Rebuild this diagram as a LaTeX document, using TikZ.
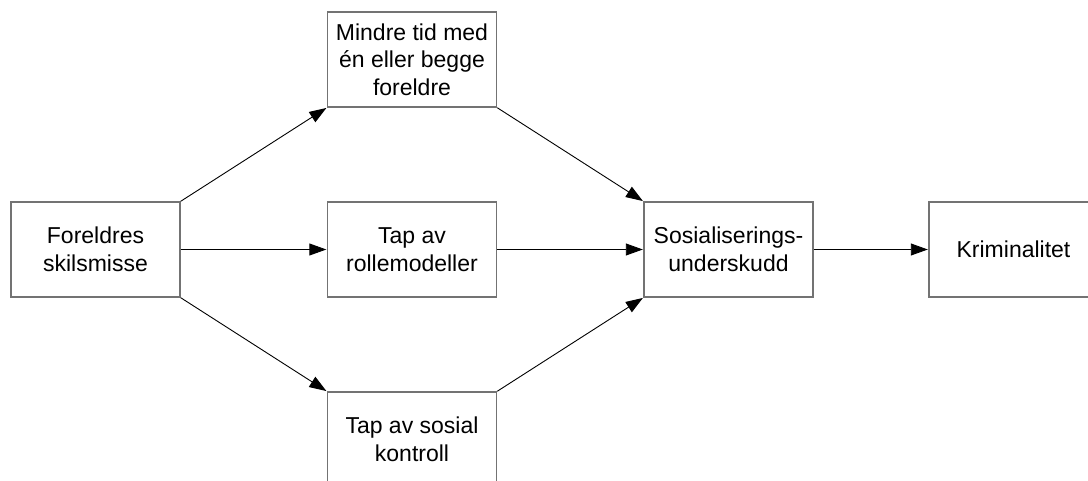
\documentclass[tikz,border=0pt]{standalone}
\usepackage{fontspec}
\setmainfont{Liberation Sans}
\usetikzlibrary{arrows.meta}
\begin{document}
\begin{tikzpicture}[x=1pt,y=-1pt,
  box/.style={draw=black!55,line width=1.4pt,minimum width=169pt,minimum height=95pt,inner sep=0pt,align=center,font=\fontsize{23}{27.5}\selectfont},
  conn/.style={draw=black,line width=0.9pt,-{Triangle[length=17pt,width=12pt]},shorten >=0.5pt}]
\useasboundingbox (0,0) rectangle (1088,481);
\clip (0,0) rectangle (1088,481);
\node[box] (a) at (95.5,249.5) {Foreldres\\skilsmisse};
\node[box] (b) at (412,59.5) {Mindre tid med\\én eller begge\\foreldre};
\node[box] (c) at (412,249.5) {Tap av\\rollemodeller};
\node[box] (d) at (412,439.5) {Tap av sosial\\kontroll};
\node[box] (e) at (728.5,249.5) {Sosialiserings-\\underskudd};
\node[box] (f) at (1013.5,249.5) {Kriminalitet};
\draw[conn] (a.north east) -- (b.south west);
\draw[conn] (a.east) -- (c.west);
\draw[conn] (a.south east) -- (d.north west);
\draw[conn] (b.south east) -- (e.north west);
\draw[conn] (c.east) -- (e.west);
\draw[conn] (d.north east) -- (e.south west);
\draw[conn] (e.east) -- (f.west);
\end{tikzpicture}
\end{document}
